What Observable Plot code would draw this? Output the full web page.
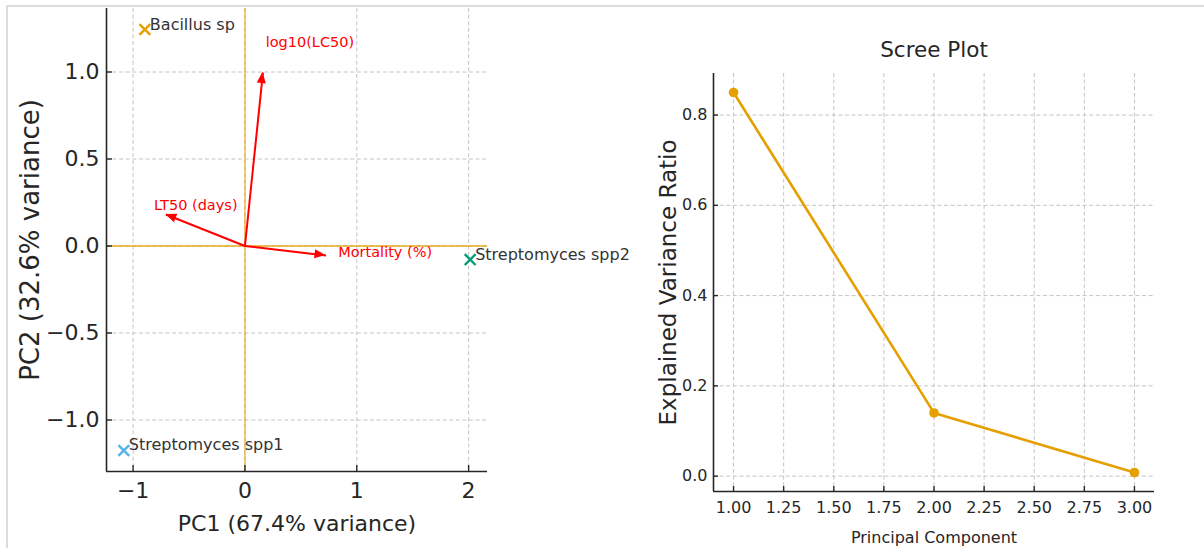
<!DOCTYPE html>
<html>
<head>
<meta charset="utf-8">
<script src="https://cdn.jsdelivr.net/npm/d3@7"></script>
<script src="https://cdn.jsdelivr.net/npm/@observablehq/plot@0.6"></script>
<style>
  html, body { margin: 0; padding: 0; background: #fff; overflow: hidden; }
  #page { position: relative; width: 1204px; height: 548px; overflow: hidden; }
  #edge { position: absolute; left: 6px; top: 5px; width: 1300px; height: 600px;
          border-top: 2px solid #dcdcdc; border-left: 2px solid #dcdcdc; }
  #biplot { position: absolute; left: 8px; top: 7px; }
  #scree { position: absolute; left: 640px; top: 7px; }
</style>
</head>
<body>
<div id="page">
  <div id="edge"></div>
  <div id="biplot"></div>
  <div id="scree"></div>
</div>
<script>
// PCA scores of the three isolates
const sampleNames = ["Bacillus sp", "Streptomyces spp1", "Streptomyces spp2"];
const samplePC1 = [-0.895, -1.083, 2.014];
const samplePC2 = [1.244, -1.175, -0.078];
const sampleColors = ["#E69F00", "#56B4E9", "#009E73"];

// Variable loadings (arrows)
const variableNames = ["log10(LC50)", "LT50 (days)", "Mortality (%)"];
const loadingPC1 = [0.161, -0.707, 0.725];
const loadingPC2 = [0.997, 0.181, -0.055];

const pcaXTicks = [-1, 0, 1, 2];
const pcaYTicks = [-1, -0.5, 0, 0.5, 1];
const pcaXLabel = "PC1 (67.4% variance)";
const pcaYLabel = "PC2 (32.6% variance)";

// Scree plot
const components = [1, 2, 3];
const explainedRatio = [0.85, 0.14, 0.008];
const screeXTicks = [1, 1.25, 1.5, 1.75, 2, 2.25, 2.5, 2.75, 3];
const screeYTicks = [0, 0.2, 0.4, 0.6, 0.8];
const screeTitle = "Scree Plot";
const screeXLabel = "Principal Component";
const screeYLabel = "Explained Variance Ratio";

// ---- tables built from the arrays above
const samples = sampleNames.map((name, i) => ({name, pc1: samplePC1[i], pc2: samplePC2[i]}));
const loadings = variableNames.map((name, i) => ({name, pc1: loadingPC1[i], pc2: loadingPC2[i]}));
const scree = components.map((pc, i) => ({pc, ratio: explainedRatio[i]}));

// autoscale with 5% padding on each side
function padded(values) {
  const [lo, hi] = d3.extent(values);
  const m = (hi - lo) * 0.05;
  return [lo - m, hi + m];
}

const ink = "#262626";
const gridStyle = {stroke: "#c4c4c4", strokeOpacity: 1, strokeWidth: 1, strokeDasharray: "4,2.6"};
const font = "DejaVu Sans";
const gold = "#E69F00";

// filled triangular heads at the end of each loading vector
function arrowHeads(index, scales) {
  const ns = "http://www.w3.org/2000/svg";
  const g = document.createElementNS(ns, "g");
  const x0 = scales.x(0), y0 = scales.y(0);
  for (const d of loadings) {
    const x1 = scales.x(d.pc1), y1 = scales.y(d.pc2);
    const a = Math.atan2(y1 - y0, x1 - x0);
    const L = 11, W = 4.6;
    const bx = x1 - L * Math.cos(a), by = y1 - L * Math.sin(a);
    const px = -Math.sin(a) * W, py = Math.cos(a) * W;
    const p = document.createElementNS(ns, "path");
    p.setAttribute("d", `M${x1},${y1}L${bx + px},${by + py}L${bx - px},${by - py}Z`);
    p.setAttribute("fill", "red");
    g.appendChild(p);
  }
  return g;
}

// ---------------- PCA biplot
const bx = padded(samplePC1), by = padded(samplePC2);
const biplot = Plot.plot({
  width: 632, height: 541,
  marginLeft: 98, marginRight: 153, marginTop: 1, marginBottom: 77,
  style: {fontFamily: font, color: ink, background: "none", overflow: "visible"},
  x: {domain: bx, label: null},
  y: {domain: by, label: null},
  color: {domain: sampleNames, range: sampleColors},
  marks: [
    Plot.gridX({ticks: pcaXTicks, ...gridStyle}),
    Plot.gridY({ticks: pcaYTicks, ...gridStyle}),
    Plot.ruleY([0], {stroke: gold, strokeOpacity: 0.65, strokeWidth: 1.8}),
    Plot.ruleX([0], {stroke: gold, strokeOpacity: 0.55, strokeWidth: 1.8}),
    Plot.ruleX([bx[0]], {stroke: ink, strokeWidth: 1.6}),
    Plot.ruleY([by[0]], {stroke: ink, strokeWidth: 1.6}),
    Plot.axisX({ticks: pcaXTicks, tickSize: 6, dy: -6, tickFormat: () => "", label: null, strokeWidth: 1.4}),
    Plot.axisY({ticks: pcaYTicks, tickSize: 6, dx: 6, tickFormat: () => "", label: null, strokeWidth: 1.4}),
    Plot.axisX({ticks: pcaXTicks, tickSize: 0, tickPadding: 11, tickFormat: d3.format("d"), label: null, fontSize: 22}),
    Plot.axisY({ticks: pcaYTicks, tickSize: 0, tickPadding: 7, tickFormat: d3.format(".1f"), label: null, fontSize: 22}),
    Plot.text([pcaXLabel], {text: d => d, frameAnchor: "bottom", dy: 52, textAnchor: "middle", lineAnchor: "middle", fontSize: 22, fill: ink}),
    Plot.text([pcaYLabel], {text: d => d, frameAnchor: "left", dx: -76, rotate: -90, textAnchor: "middle", lineAnchor: "middle", fontSize: 26, fill: ink}),
    Plot.link(loadings, {x1: () => 0, y1: () => 0, x2: "pc1", y2: "pc2", stroke: "red", strokeWidth: 2}),
    arrowHeads,
    Plot.text(loadings, {x: d => d.pc1 * 1.15, y: d => d.pc2 * 1.15, text: "name", textAnchor: "start",
      lineAnchor: "bottom", fill: "red", fontSize: 14.5}),
    Plot.dot(samples, {x: "pc1", y: "pc2", stroke: "name", symbol: "times", r: 5, strokeWidth: 2.4}),
    Plot.text(samples, {x: "pc1", y: "pc2", text: "name", textAnchor: "start", lineAnchor: "bottom",
      dx: 5, fill: "#333", fontSize: 16})
  ]
});
document.getElementById("biplot").appendChild(biplot);

// ---------------- Scree plot
const sx = padded(components), sy = padded(explainedRatio);
const screePlot = Plot.plot({
  width: 564, height: 541,
  marginLeft: 73, marginRight: 50, marginTop: 66, marginBottom: 57,
  style: {fontFamily: font, color: ink, background: "none", overflow: "visible"},
  x: {domain: sx, label: null},
  y: {domain: sy, label: null},
  marks: [
    Plot.gridX({ticks: screeXTicks, ...gridStyle}),
    Plot.gridY({ticks: screeYTicks, ...gridStyle}),
    Plot.ruleX([sx[0]], {stroke: ink, strokeWidth: 1.6}),
    Plot.ruleY([sy[0]], {stroke: ink, strokeWidth: 1.6}),
    Plot.axisX({ticks: screeXTicks, tickSize: 5, dy: -5, tickFormat: () => "", label: null, strokeWidth: 1.4}),
    Plot.axisY({ticks: screeYTicks, tickSize: 5, dx: 5, tickFormat: () => "", label: null, strokeWidth: 1.4}),
    Plot.axisX({ticks: screeXTicks, tickSize: 0, tickPadding: 10, tickFormat: d3.format(".2f"), label: null, fontSize: 16}),
    Plot.axisY({ticks: screeYTicks, tickSize: 0, tickPadding: 6, tickFormat: d3.format(".1f"), label: null, fontSize: 16}),
    Plot.text([screeTitle], {text: d => d, frameAnchor: "top", dy: -23, textAnchor: "middle", lineAnchor: "middle", fontSize: 21.5, fill: ink}),
    Plot.text([screeXLabel], {text: d => d, frameAnchor: "bottom", dy: 46, textAnchor: "middle", lineAnchor: "middle", fontSize: 16, fill: ink}),
    Plot.text([screeYLabel], {text: d => d, frameAnchor: "left", dx: -45, rotate: -90, textAnchor: "middle", lineAnchor: "middle", fontSize: 23, fill: ink}),
    Plot.line(scree, {x: "pc", y: "ratio", stroke: gold, strokeWidth: 2.6}),
    Plot.dot(scree, {x: "pc", y: "ratio", fill: gold, r: 4.8})
  ]
});
document.getElementById("scree").appendChild(screePlot);
</script>
</body>
</html>
